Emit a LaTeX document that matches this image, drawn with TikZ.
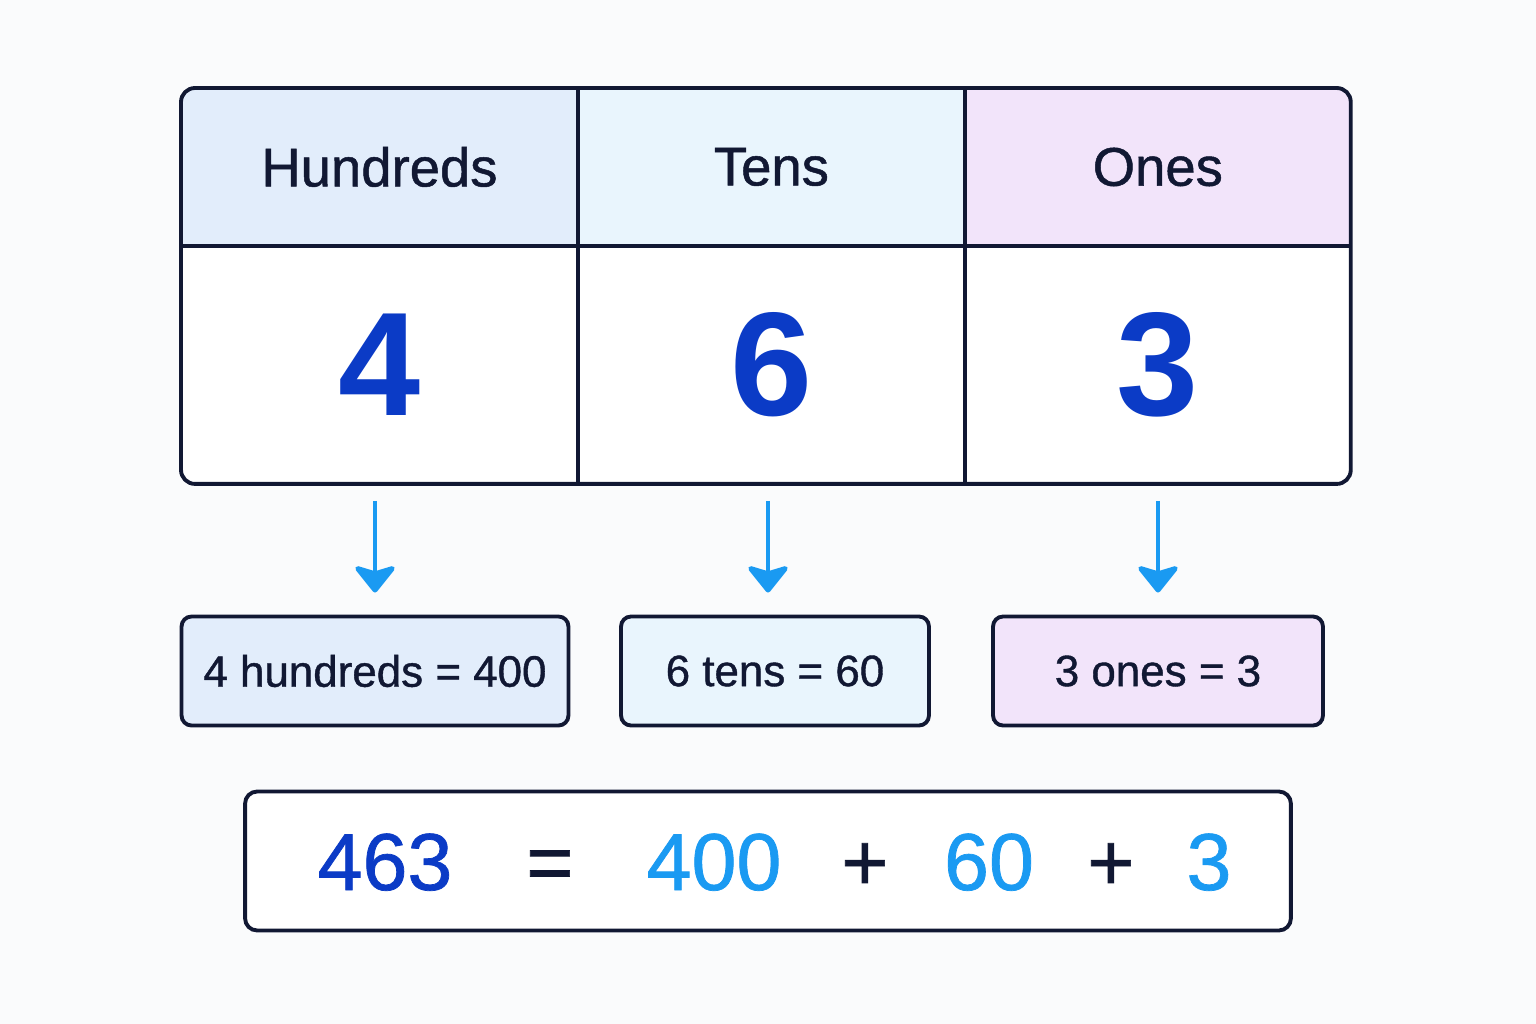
\documentclass[tikz,border=0pt]{standalone}
\usepackage{fontspec}
\setmainfont{Liberation Sans}
\newfontfamily\medfont{Liberation Sans}[FakeBold=0.9]
\usetikzlibrary{positioning,arrows.meta}
\definecolor{ink}{HTML}{111833}
\definecolor{deepBlue}{HTML}{0B3BC6}
\definecolor{skyBlue}{HTML}{1A9AF2}
\definecolor{hundFill}{HTML}{E2EDFB}
\definecolor{tensFill}{HTML}{E9F5FD}
\definecolor{onesFill}{HTML}{F2E4FA}
\definecolor{paper}{HTML}{FAFBFC}

\begin{document}
\begin{tikzpicture}[x=0.02cm, y=-0.02cm,
        head/.style={rectangle, inner sep=0pt, outer sep=0pt, minimum height=3.16cm, font=\medfont\fontsize{31}{36}\selectfont, text=ink},
        digit/.style={rectangle, inner sep=0pt, outer sep=0pt, minimum height=4.76cm, font=\fontsize{84}{90}\selectfont\bfseries, text=deepBlue},
        grid/.style={draw=ink, line width=2.2pt},
        valbox/.style={rectangle, draw=ink, line width=2.2pt, rounded corners=0.2cm, minimum height=2.18cm, font=\medfont\fontsize{25}{30}\selectfont, text=ink},
        eqpart/.style={anchor=base, font=\medfont\fontsize{46}{50}\selectfont},
        arr/.style={-{Stealth[width=27pt, length=17pt, inset=4pt, round]}, draw=skyBlue, line width=2.8pt}
    ]
        \fill[paper] (0,0) rectangle (1536,1024);
        % place value table
        \begin{scope}
            \clip[rounded corners=0.28cm] (181,88) rectangle (1351,484);
            \node[head, fill=hundFill, minimum width=7.94cm, anchor=north west] (hHead) at (181,88) {Hundreds};
            \node[head, fill=tensFill, minimum width=7.74cm, right=0pt of hHead] (tHead) {Tens};
            \node[head, fill=onesFill, minimum width=7.72cm, right=0pt of tHead] (oHead) {Ones};
            \node[digit, fill=white, minimum width=7.94cm, below=0pt of hHead] (hDigit) {4};
            \node[digit, fill=white, minimum width=7.74cm, below=0pt of tHead] (tDigit) {6};
            \node[digit, fill=white, minimum width=7.72cm, below=0pt of oHead] (oDigit) {3};
        \end{scope}
        \draw[grid] (hHead.south west) -- (oHead.south east);
        \draw[grid] (hHead.north east) -- (hDigit.south east);
        \draw[grid] (tHead.north east) -- (tDigit.south east);
        \draw[grid, rounded corners=0.28cm] (hHead.north west) rectangle (oDigit.south east);

        % expanded values
        \node[valbox, fill=hundFill, minimum width=7.74cm] (hVal) at (375,671) {4 hundreds = 400};
        \node[valbox, fill=tensFill, minimum width=6.16cm] (tVal) at (775,671) {6 tens = 60};
        \node[valbox, fill=onesFill, minimum width=6.60cm] (oVal) at (1158,671) {3 ones = 3};
        \draw[arr] (hVal.north |- hDigit.south) ++(0,17) -- ([yshift=0.44cm]hVal.north);
        \draw[arr] ([xshift=-0.14cm]tVal.north |- tDigit.south) ++(0,17) -- ([xshift=-0.14cm, yshift=0.44cm]tVal.north);
        \draw[arr] (oVal.north |- oDigit.south) ++(0,17) -- ([yshift=0.44cm]oVal.north);

        % expanded form
        \node[rectangle, draw=ink, line width=2.2pt, rounded corners=0.24cm, fill=white, minimum width=20.92cm, minimum height=2.78cm] (eqBox) at (768,861) {};
        \node[eqpart, text=deepBlue] (eqNum) at (385,890) {463};
        \node[eqpart, text=ink] (eqSign) at (550,890) {=};
        \node[eqpart, text=skyBlue] (eqHund) at (714,890) {400};
        \node[eqpart, text=ink] (eqPlusA) at (865,890) {+};
        \node[eqpart, text=skyBlue] (eqTens) at (989,890) {60};
        \node[eqpart, text=ink] (eqPlusB) at (1111,890) {+};
        \node[eqpart, text=skyBlue] (eqOnes) at (1209,890) {3};
    \end{tikzpicture}
\end{document}
